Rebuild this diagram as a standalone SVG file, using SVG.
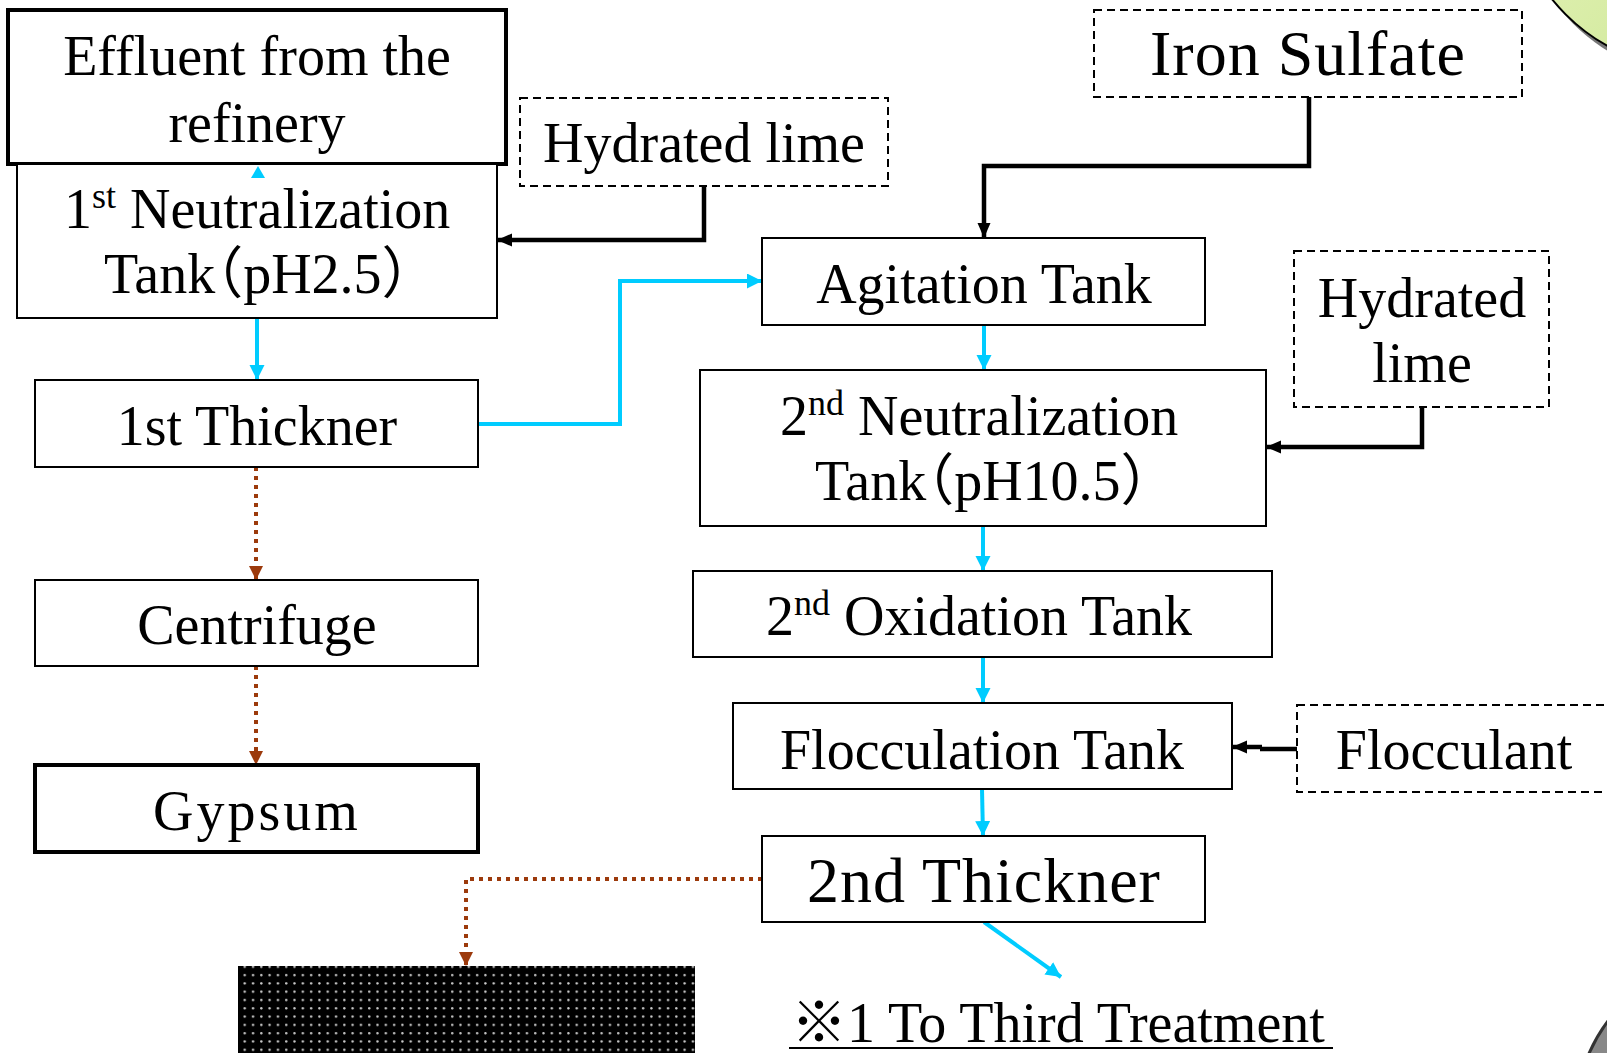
<svg xmlns="http://www.w3.org/2000/svg" width="1607" height="1053" viewBox="0 0 1607 1053">
<style>
.box{fill:#fff;stroke:#000;stroke-width:2}
.thick{fill:#fff;stroke:#000;stroke-width:4}
.dash{fill:#fff;stroke:#000;stroke-width:2;stroke-dasharray:8 5}
.t{font-family:"Liberation Serif","Noto Sans CJK JP",serif;font-size:56px;fill:#000}
.c{font-family:"Liberation Serif","Noto Sans CJK JP",serif;font-size:64px;fill:#000}
.h{font-feature-settings:"halt"}
.m{text-anchor:middle}
.cy{fill:none;stroke:#00CCFF;stroke-width:4}
.bk{fill:none;stroke:#000;stroke-width:4.5}
.br{fill:none;stroke:#9C3A0C;stroke-width:4;stroke-dasharray:4 5}
</style>
<defs>
<marker id="ac" markerWidth="16" markerHeight="16" refX="15" refY="7.5" orient="auto" markerUnits="userSpaceOnUse"><path d="M0,0 L15,7.5 L0,15 z" fill="#00CCFF"/></marker>
<marker id="ab" markerWidth="16" markerHeight="14" refX="15" refY="6.5" orient="auto" markerUnits="userSpaceOnUse"><path d="M0,0 L15,6.5 L0,13 z" fill="#000"/></marker>
<marker id="ar" markerWidth="16" markerHeight="16" refX="14" refY="7" orient="auto" markerUnits="userSpaceOnUse"><path d="M0,0 L14,7 L0,14 z" fill="#9C3A0C"/></marker>
<pattern id="dots" width="8.3" height="8.3" patternUnits="userSpaceOnUse"><rect width="8.3" height="8.3" fill="#000"/><circle cx="4" cy="4" r="1.2" fill="#ccc"/></pattern>
<linearGradient id="gr" x1="0" y1="0" x2="1" y2="1"><stop offset="0" stop-color="#eef7c8"/><stop offset="1" stop-color="#c6e48a"/></linearGradient>
</defs>

<g id="decor">
<circle cx="1707" cy="-111" r="190" fill="#777"/>
<circle cx="1700" cy="-120" r="190" fill="url(#gr)" stroke="#000" stroke-width="2"/>
<circle cx="1740" cy="1120" r="165" fill="#888" stroke="#333" stroke-width="3"/>
</g>

<g id="connectors">
<path class="cy" d="M257,318 V380" marker-end="url(#ac)"/>
<path class="cy" d="M478,424 H620 V281 H762" marker-end="url(#ac)"/>
<path class="cy" d="M984,325 V370" marker-end="url(#ac)"/>
<path class="cy" d="M983,526 V571" marker-end="url(#ac)"/>
<path class="cy" d="M983,657 V703" marker-end="url(#ac)"/>
<path class="cy" d="M982,789 L983,836" marker-end="url(#ac)"/>
<path class="cy" d="M984,922 L1061,977" marker-end="url(#ac)"/>
<path class="bk" d="M704,186 V240 H497" marker-end="url(#ab)"/>
<path class="bk" d="M1309,97 V166 H984 V238" marker-end="url(#ab)"/>
<path class="bk" d="M1422,407 V447 H1266" marker-end="url(#ab)"/>
<path class="bk" d="M1297,749 H1260" />
<path class="bk" d="M1262,747 H1232" stroke-width="3" marker-end="url(#ab)"/>
<path class="br" d="M256,467 V580" marker-end="url(#ar)"/>
<path class="br" d="M256,666 V765" marker-end="url(#ar)"/>
<path class="br" d="M762,879 H466 V966" marker-end="url(#ar)"/>
</g>

<g id="n-effluent">
<rect class="thick" x="8" y="10" width="498" height="154"/>
<text class="t m" x="257" y="75">Effluent from the</text>
<text class="t m" x="257" y="142">refinery</text>
</g>
<g id="n-neut1">
<rect class="box" x="17" y="164" width="480" height="154"/>
<text class="t" x="64" y="228">1<tspan font-size="36" dy="-20">st</tspan><tspan dy="20"> Neutralization</tspan></text>
<text class="t h" x="104" y="293">Tank（pH2.5）</text>
</g>
<path d="M251,178 L258,166 L265,178 z" fill="#00CCFF"/>
<g id="n-lime1">
<rect class="dash" x="520" y="98" width="368" height="88"/>
<text class="t m" x="704" y="162">Hydrated lime</text>
</g>
<g id="n-iron">
<rect class="dash" x="1094" y="10" width="428" height="87"/>
<text class="c m" x="1308" y="75" letter-spacing="1">Iron Sulfate</text>
</g>
<g id="n-agit">
<rect class="box" x="762" y="238" width="443" height="87"/>
<text class="t m" x="984" y="303">Agitation Tank</text>
</g>
<g id="n-lime2">
<rect class="dash" x="1294" y="251" width="255" height="156"/>
<text class="t m" x="1422" y="317">Hydrated</text>
<text class="t m" x="1422" y="382">lime</text>
</g>
<g id="n-neut2">
<rect class="box" x="700" y="370" width="566" height="156"/>
<text class="t" x="780" y="435">2<tspan font-size="36" dy="-20">nd</tspan><tspan dy="20"> Neutralization</tspan></text>
<text class="t h" x="815" y="500">Tank（pH10.5）</text>
</g>
<g id="n-ox2">
<rect class="box" x="693" y="571" width="579" height="86"/>
<text class="t" x="766" y="635">2<tspan font-size="36" dy="-20">nd</tspan><tspan dy="20"> Oxidation Tank</tspan></text>
</g>
<g id="n-floc">
<rect class="box" x="733" y="703" width="499" height="86"/>
<text class="t m" x="982" y="769">Flocculation Tank</text>
</g>
<g id="n-flocculant">
<rect class="dash" x="1297" y="705" width="330" height="87"/>
<text class="t m" x="1454" y="769">Flocculant</text>
</g>
<g id="n-thick2">
<rect class="box" x="762" y="836" width="443" height="86"/>
<text class="c m" x="984" y="902" letter-spacing="1">2nd Thickner</text>
</g>
<g id="n-thick1">
<rect class="box" x="35" y="380" width="443" height="87"/>
<text class="t m" x="257" y="445">1st Thickner</text>
</g>
<g id="n-centri">
<rect class="box" x="35" y="580" width="443" height="86"/>
<text class="t m" x="257" y="644">Centrifuge</text>
</g>
<g id="n-gypsum">
<rect class="thick" x="35" y="765" width="443" height="87"/>
<text class="t m" x="257" y="830" font-size="62" letter-spacing="3">Gypsum</text>
</g>
<g id="n-hidden">
<rect x="238" y="966" width="457" height="90" fill="url(#dots)"/>
</g>
<g id="n-third">
<text class="t" x="791" y="1042">※1 To Third Treatment</text>
<line x1="789" y1="1048" x2="1333" y2="1048" stroke="#000" stroke-width="2"/>
</g>
</svg>
